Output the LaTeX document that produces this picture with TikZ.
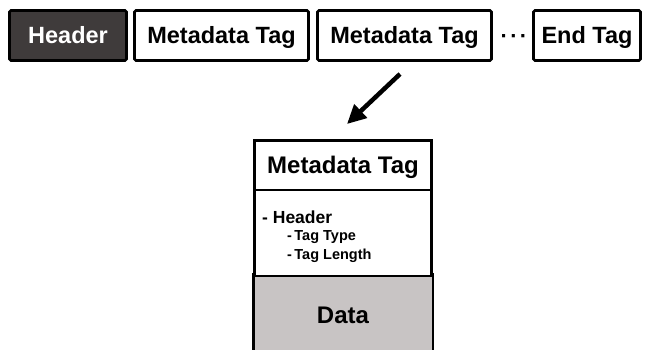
\documentclass[tikz,border=0pt]{standalone}
\usepackage{fontspec}
\setmainfont{Liberation Sans}
\usetikzlibrary{arrows.meta}
\definecolor{darkhdr}{HTML}{3F3B3B}
\definecolor{datagray}{HTML}{C8C4C4}
\tikzset{
  topbox/.style={draw=black, line width=2.8, rounded corners=1.5, inner sep=0pt,
    minimum height=50, text height=16.5, text depth=0,
    font=\fontsize{23.5}{27}\selectfont\bfseries},
  secbox/.style={draw=black, line width=2.8, inner sep=0pt, minimum width=177},
  small/.style={anchor=base west, inner sep=0pt, font=\bfseries},
}
\begin{document}
\begin{tikzpicture}[x=1pt,y=-1pt]
\useasboundingbox (0,0) rectangle (646,349);
% top row
\node[topbox, fill=darkhdr, text=white, minimum width=117] (hdr) at (68,35.5) {Header};
\node[topbox, fill=white, minimum width=174] (mt1) at (221.5,35.5) {Metadata Tag};
\node[topbox, fill=white, minimum width=174] (mt2) at (404.5,35.5) {Metadata Tag};
\node[anchor=base, inner sep=0pt, font=\fontsize{22}{26}\selectfont\bfseries] (dots) at (514,43) {·\hspace{2.3pt}·\hspace{2.3pt}·};
\node[topbox, fill=white, minimum width=107] (endt) at (587,35.5) {End Tag};
% arrow
\coordinate (a1) at (400,74);
\coordinate (a2) at (347,124);
\draw[line width=4.5, -{Triangle[length=19,width=18]}] (a1) -- (a2);
% expanded tag
\node[secbox, fill=datagray, draw=none, minimum height=78, text height=17.5, text depth=0,
  font=\fontsize{24}{28}\selectfont\bfseries] (data) at (343,315) {Data};
\draw[line width=2.8] (data.south west) -- (data.north west) -- (data.north east) -- (data.south east);
\node[secbox, fill=white, minimum height=86] (hsec) at (343,233) {};
\node[secbox, fill=white, minimum height=49.5, text height=16.5, text depth=0,
  font=\fontsize{24}{28}\selectfont\bfseries] (title) at (343,165.25) {Metadata Tag};
\node[small, font=\fontsize{17.5}{20}\selectfont\bfseries] (l1) at (262,223.5) {- Header};
\node[small, font=\fontsize{14.5}{17}\selectfont\bfseries] (l2) at (287,240.7) {-\,Tag Type};
\node[small, font=\fontsize{14.5}{17}\selectfont\bfseries] (l3) at (287,259.7) {-\,Tag Length};
\end{tikzpicture}
\end{document}
